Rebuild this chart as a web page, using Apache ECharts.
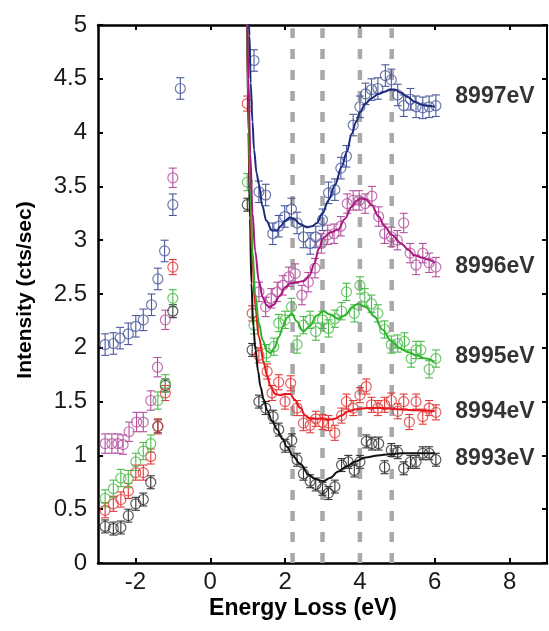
<!DOCTYPE html>
<html>
<head>
<meta charset="utf-8">
<script src="https://cdn.jsdelivr.net/npm/echarts@6/dist/echarts.min.js"></script>
<style>html,body{margin:0;padding:0;background:#fff}#c{width:549px;height:631px}</style>
</head>
<body>
<div id="c"></div>
<script>
// ---- data ----
const xTicks = [-2, 0, 2, 4, 6, 8];
const yTicksStep = 0.5;
const dashX = [2.2, 3.0, 4.0, 4.85];
const seriesNames = ['8993eV', '8994eV', '8995eV', '8996eV', '8997eV'];
const labelY = [0.97, 1.41, 1.92, 2.75, 4.33];
const errBar = [0.06, 0.07, 0.08, 0.09, 0.1];

const black = [[-2.81,0.34],[-2.59,0.32],[-2.39,0.33],[-2.19,0.44],[-1.99,0.55],[-1.79,0.59],[-1.59,0.75],[-1.40,1.27],[-1.20,1.65],[-1.0,2.34],
  [0.99,3.33],[1.12,1.98],[1.30,1.50],[1.48,1.44],[1.68,1.36],[1.83,1.24],[2.0,1.09],[2.18,1.14],[2.32,0.96],[2.49,0.83],[2.67,0.76],[2.82,0.73],[3.0,0.69],[3.16,0.65],[3.33,0.71],[3.51,0.91],[3.69,0.94],[3.85,0.86],[4.0,0.94],[4.17,1.13],[4.32,1.11],[4.50,1.11],[4.66,0.89],[4.84,1.05],[5.01,1.03],[5.17,0.88],[5.35,0.94],[5.50,0.94],[5.68,1.02],[5.85,1.02],[6.03,0.96]];
const red = [[-2.81,0.49],[-2.59,0.55],[-2.39,0.59],[-2.19,0.67],[-1.99,0.84],[-1.79,0.84],[-1.59,0.99],[-1.40,1.27],[-1.20,1.58],[-1.0,2.75],
  [0.99,4.27],[1.12,2.32],[1.30,1.93],[1.52,1.78],[1.65,1.58],[1.83,1.68],[2.0,1.50],[2.15,1.67],[2.32,1.44],[2.49,1.30],[2.67,1.28],[2.82,1.34],[3.0,1.31],[3.16,1.30],[3.33,1.21],[3.51,1.37],[3.64,1.50],[3.82,1.44],[4.0,1.56],[4.17,1.64],[4.31,1.47],[4.48,1.44],[4.66,1.47],[4.84,1.51],[5.01,1.41],[5.17,1.50],[5.32,1.31],[5.50,1.50],[5.68,1.36],[5.85,1.44],[6.03,1.40]];
const green = [[-2.81,0.60],[-2.59,0.69],[-2.39,0.79],[-2.19,0.78],[-1.99,0.94],[-1.79,1.04],[-1.59,1.11],[-1.40,1.51],[-1.20,1.67],[-1.0,2.46],
  [0.99,3.54],[1.17,2.21],[1.50,1.95],[1.70,2.01],[1.83,2.23],[2.0,2.26],[2.17,2.38],[2.32,2.03],[2.49,2.21],[2.67,2.26],[2.82,2.15],[3.0,2.26],[3.16,2.18],[3.33,2.27],[3.51,2.34],[3.64,2.52],[3.85,2.32],[4.0,2.58],[4.13,2.47],[4.31,2.41],[4.48,2.32],[4.66,2.17],[4.84,2.03],[5.01,2.04],[5.19,2.06],[5.37,1.90],[5.50,1.98],[5.63,1.98],[5.85,1.80],[6.03,1.90]];
const magenta = [[-2.81,1.11],[-2.63,1.11],[-2.47,1.11],[-2.33,1.10],[-2.17,1.22],[-1.97,1.31],[-1.79,1.31],[-1.59,1.51],[-1.41,1.82],[-1.20,2.26],[-1.0,3.58],
  [1.30,2.52],[1.48,2.38],[1.63,2.46],[1.79,2.52],[1.94,2.58],[2.10,2.66],[2.27,2.69],[2.45,2.49],[2.62,2.61],[2.80,2.74],[2.97,2.97],[3.14,3.05],[3.31,3.06],[3.49,3.13],[3.66,3.34],[3.82,3.37],[3.98,3.37],[4.14,3.34],[4.32,3.41],[4.50,3.22],[4.66,3.06],[4.84,3.03],[5.0,3.0],[5.17,3.16],[5.34,2.88],[5.50,2.77],[5.68,2.88],[5.85,2.79],[6.03,2.75]];
const blue = [[-2.81,2.03],[-2.59,2.04],[-2.41,2.09],[-2.19,2.13],[-1.99,2.20],[-1.79,2.26],[-1.57,2.40],[-1.40,2.64],[-1.22,2.90],[-1.0,3.33],[-0.80,4.41],
  [1.17,4.67],[1.30,3.45],[1.48,3.42],[1.67,3.06],[1.83,3.13],[1.99,3.22],[2.17,3.29],[2.32,3.16],[2.49,3.03],[2.67,2.97],[2.82,3.03],[3.0,3.19],[3.16,3.44],[3.33,3.47],[3.49,3.67],[3.64,3.78],[3.82,4.07],[4.0,4.24],[4.15,4.36],[4.31,4.40],[4.48,4.41],[4.68,4.53],[4.84,4.49],[5.01,4.35],[5.17,4.25],[5.35,4.31],[5.50,4.24],[5.68,4.23],[5.85,4.24],[6.03,4.25]];

const blackFit = [[0.98,5.3],[1.02,4.0],[1.06,3.2],[1.1,2.6],[1.15,2.2],[1.21,1.98],[1.28,1.78],[1.34,1.64],[1.43,1.52],[1.52,1.42],[1.65,1.32],[1.79,1.24],[1.92,1.16],[2.05,1.08],[2.2,1.0],[2.41,0.92],[2.63,0.82],[2.8,0.78],[3.02,0.76],[3.2,0.79],[3.42,0.85],[3.65,0.90],[3.86,0.94],[4.15,0.98],[4.48,1.0],[4.8,1.01],[5.1,1.02],[5.5,1.02],[6.0,1.02]];
const redFit = [[0.98,5.3],[1.02,4.2],[1.07,3.4],[1.12,2.85],[1.2,2.4],[1.3,2.10],[1.43,1.86],[1.52,1.74],[1.61,1.64],[1.74,1.57],[1.88,1.56],[2.0,1.57],[2.14,1.57],[2.25,1.52],[2.41,1.44],[2.54,1.37],[2.67,1.34],[2.85,1.34],[2.98,1.34],[3.15,1.33],[3.33,1.34],[3.5,1.37],[3.69,1.41],[3.9,1.43],[4.2,1.44],[4.6,1.44],[5.0,1.43],[5.5,1.42],[6.0,1.41]];
const greenFit = [[0.98,5.3],[1.02,4.3],[1.07,3.5],[1.13,2.9],[1.2,2.5],[1.3,2.23],[1.4,2.07],[1.52,1.97],[1.61,1.95],[1.72,2.0],[1.83,2.10],[1.95,2.2],[2.05,2.28],[2.18,2.32],[2.3,2.25],[2.49,2.15],[2.65,2.2],[2.85,2.3],[3.02,2.34],[3.2,2.31],[3.42,2.27],[3.6,2.3],[3.8,2.38],[3.95,2.41],[4.15,2.38],[4.39,2.29],[4.6,2.17],[4.84,2.06],[5.05,2.0],[5.28,1.96],[5.5,1.93],[5.76,1.90],[6.0,1.87]];
const magentaFit = [[0.98,5.3],[1.02,4.5],[1.07,3.8],[1.13,3.25],[1.2,2.9],[1.3,2.62],[1.4,2.47],[1.5,2.40],[1.58,2.38],[1.7,2.40],[1.85,2.48],[2.0,2.56],[2.14,2.60],[2.3,2.61],[2.5,2.62],[2.65,2.67],[2.78,2.78],[2.9,2.92],[3.02,3.02],[3.2,3.07],[3.42,3.10],[3.6,3.2],[3.78,3.31],[3.92,3.37],[4.04,3.39],[4.15,3.38],[4.31,3.33],[4.5,3.22],[4.66,3.13],[4.85,3.05],[5.1,2.97],[5.3,2.91],[5.46,2.86],[5.65,2.84],[5.81,2.82],[6.0,2.79]];
const blueFit = [[1.01,5.3],[1.05,4.9],[1.08,4.46],[1.13,4.1],[1.17,3.84],[1.24,3.62],[1.3,3.52],[1.39,3.32],[1.5,3.18],[1.65,3.09],[1.78,3.09],[1.88,3.13],[2.0,3.18],[2.12,3.21],[2.23,3.20],[2.4,3.15],[2.58,3.12],[2.72,3.13],[2.85,3.16],[3.0,3.25],[3.16,3.37],[3.33,3.51],[3.51,3.68],[3.65,3.82],[3.78,3.99],[3.9,4.1],[4.0,4.19],[4.15,4.27],[4.31,4.32],[4.5,4.36],[4.66,4.38],[4.8,4.40],[4.93,4.40],[5.1,4.37],[5.28,4.33],[5.45,4.29],[5.63,4.26],[5.8,4.25],[6.0,4.24]];

const points = [black, red, green, magenta, blue];
const fits = [blackFit, redFit, greenFit, magentaFit, blueFit];
const markerColors = ['#333333', '#e23a3a', '#4cbb4c', '#b4509e', '#4b5a9c'];
const lineColors = ['#111111', '#e8141e', '#2cb52c', '#a8177e', '#1c2a7c'];

// ---- chart ----
const FONT = 'Liberation Sans, Arial, sans-serif';
const chart = echarts.init(document.getElementById('c'), null, {renderer: 'canvas'});
const series = [];

dashX.forEach(x => {
  series.push({
    type: 'line', data: [[x, 0], [x, 4.97]], symbol: 'none', silent: true, z: 1,
    lineStyle: {color: '#a9a9a9', width: 4.5, type: [10, 11]}, animation: false
  });
});

points.forEach((pts, i) => {
  const err = errBar[i];
  const col = markerColors[i];
  series.push({
    type: 'custom', z: 3, silent: true, animation: false,
    data: pts.map(p => [p[0], p[1], err]),
    renderItem: (params, api) => {
      const x = api.value(0), y = api.value(1), e = api.value(2);
      const t = api.coord([x, y + e]), b = api.coord([x, y - e]);
      const hw = 4;
      const st = {stroke: col, lineWidth: 1.1};
      return {type: 'group', children: [
        {type: 'line', shape: {x1: t[0], y1: t[1], x2: b[0], y2: b[1]}, style: st},
        {type: 'line', shape: {x1: t[0] - hw, y1: t[1], x2: t[0] + hw, y2: t[1]}, style: st},
        {type: 'line', shape: {x1: b[0] - hw, y1: b[1], x2: b[0] + hw, y2: b[1]}, style: st}
      ]};
    }
  });
  series.push({
    type: 'scatter', z: 4, silent: true, animation: false,
    data: pts, symbol: 'circle', symbolSize: 10,
    itemStyle: {color: 'rgba(255,255,255,0)', borderColor: col, borderWidth: 1.2}
  });
  series.push({
    type: 'line', z: 5, silent: true, animation: false,
    data: fits[i], symbol: 'none', smooth: 0.35, smoothMonotone: 'x', clip: true,
    lineStyle: {color: lineColors[i], width: 2}
  });
});

series.push({
  type: 'scatter', z: 6, silent: true, animation: false, symbolSize: 0,
  data: labelY.map((y, i) => ({value: [6.55, y], name: seriesNames[i]})),
  label: {show: true, position: 'right', distance: 0, formatter: p => p.name,
    fontFamily: FONT, fontWeight: 'bold', fontSize: 23, color: '#000'}
});

const axisLineStyle = {color: '#000', width: 2.5};
chart.setOption({
  animation: false,
  backgroundColor: '#fff',
  grid: {left: 98, right: 2, top: 25, bottom: 68, containLabel: false},
  xAxis: [{
    type: 'value', min: -3, max: 9, position: 'bottom',
    axisLine: {show: true, onZero: false, lineStyle: axisLineStyle},
    axisTick: {show: true, inside: true, length: 5, lineStyle: {color: '#000', width: 2}, customValues: xTicks},
    axisLabel: {show: true, customValues: xTicks, margin: 7, fontFamily: FONT, fontSize: 24, color: '#1a1a1a'},
    splitLine: {show: false}
  }, {
    type: 'value', min: -3, max: 9, position: 'top',
    axisLine: {show: true, onZero: false, lineStyle: axisLineStyle},
    axisTick: {show: true, inside: true, length: 5, lineStyle: {color: '#000', width: 2}, customValues: xTicks},
    axisLabel: {show: false},
    splitLine: {show: false}
  }],
  yAxis: [{
    type: 'value', min: 0, max: 5, interval: yTicksStep, position: 'left',
    axisLine: {show: true, onZero: false, lineStyle: axisLineStyle},
    axisTick: {show: true, inside: true, length: 5, lineStyle: {color: '#000', width: 2}},
    axisLabel: {show: true, margin: 11, fontFamily: FONT, fontSize: 24, color: '#1a1a1a'},
    splitLine: {show: false}
  }, {
    type: 'value', min: 0, max: 5, interval: yTicksStep, position: 'right',
    axisLine: {show: true, onZero: false, lineStyle: {color: '#000', width: 2}},
    axisTick: {show: true, inside: true, length: 5, lineStyle: {color: '#000', width: 2}},
    axisLabel: {show: false},
    splitLine: {show: false}
  }],
  graphic: [
    {type: 'text', x: 25, y: 290, rotation: Math.PI / 2,
      style: {text: 'Intensity (cts/sec)', font: 'bold 21px ' + FONT, fill: '#000', textAlign: 'center', textVerticalAlign: 'middle'}},
    {type: 'text', x: 303, y: 609,
      style: {text: 'Energy Loss (eV)', font: 'bold 23px ' + FONT, fill: '#000', textAlign: 'center', textVerticalAlign: 'middle'}}
  ],
  series: series
});
</script>
</body>
</html>
